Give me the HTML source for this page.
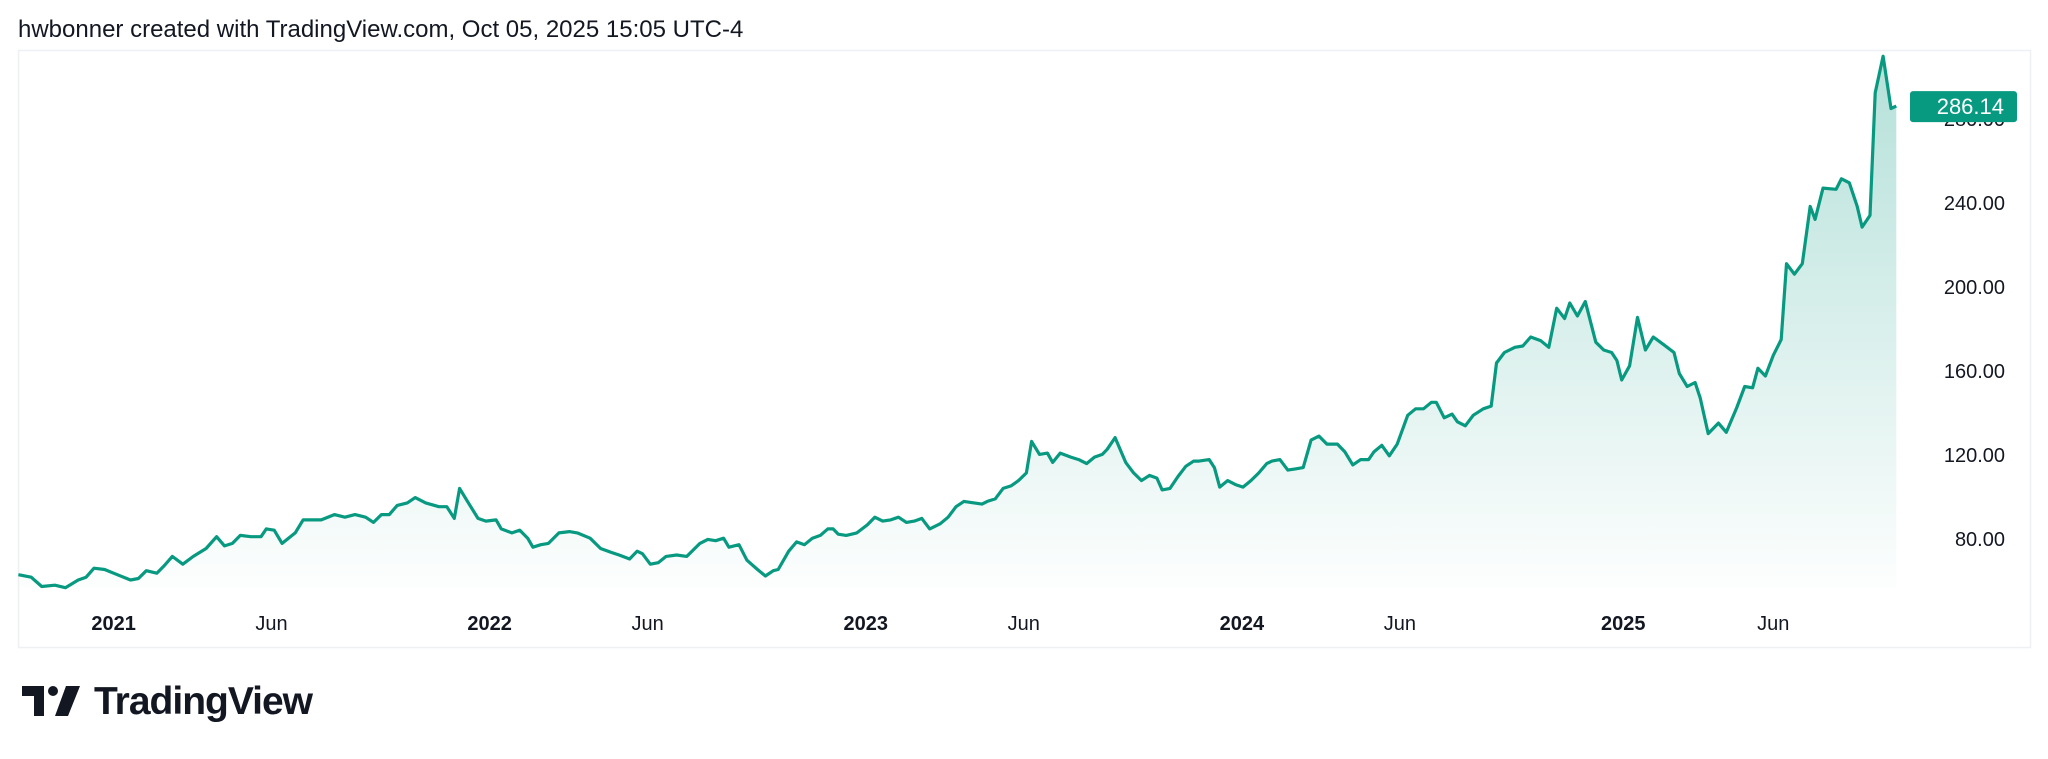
<!DOCTYPE html>
<html><head><meta charset="utf-8">
<style>
html,body{margin:0;padding:0;background:#fff;}
body{width:2048px;height:759px;position:relative;overflow:hidden;font-family:"Liberation Sans",sans-serif;}
#title{position:absolute;left:18px;top:16px;font-size:24px;color:#131722;}
#chart{position:absolute;left:0;top:0;}
#brand{position:absolute;left:22px;top:680px;height:44px;display:flex;align-items:center;}
#brand span{font-size:39px;font-weight:bold;color:#131722;letter-spacing:-1px;margin-left:12px;}
</style></head>
<body>
<div id="title">hwbonner created with TradingView.com, Oct 05, 2025 15:05 UTC-4</div>
<svg id="chart" width="2048" height="759"></svg>
<div id="brand">
<svg width="60" height="40" viewBox="0 0 60 40">
<path d="M0 4h22v30h-10V14H0z" fill="#131722"/><circle cx="31" cy="9" r="5" fill="#131722"/><path d="M44 4h14L46 34H33z" fill="#131722"/></svg>
<span>TradingView</span></div>
<script>
const dates=[2020.796,2020.830,2020.858,2020.893,2020.921,2020.955,2020.976,2020.997,2021.025,2021.059,2021.094,2021.115,2021.136,2021.164,2021.184,2021.205,2021.233,2021.261,2021.295,2021.323,2021.344,2021.365,2021.386,2021.414,2021.441,2021.455,2021.476,2021.497,2021.532,2021.553,2021.580,2021.601,2021.636,2021.664,2021.691,2021.719,2021.740,2021.761,2021.782,2021.803,2021.830,2021.851,2021.879,2021.914,2021.935,2021.955,2021.969,2021.990,2022.018,2022.039,2022.066,2022.080,2022.108,2022.129,2022.150,2022.164,2022.185,2022.205,2022.233,2022.261,2022.282,2022.316,2022.344,2022.372,2022.393,2022.421,2022.441,2022.455,2022.476,2022.497,2022.518,2022.546,2022.573,2022.608,2022.629,2022.650,2022.671,2022.685,2022.712,2022.733,2022.761,2022.782,2022.803,2022.816,2022.844,2022.865,2022.886,2022.907,2022.928,2022.948,2022.962,2022.976,2022.997,2023.025,2023.053,2023.073,2023.094,2023.115,2023.136,2023.157,2023.178,2023.198,2023.219,2023.247,2023.268,2023.289,2023.310,2023.337,2023.358,2023.372,2023.393,2023.414,2023.435,2023.455,2023.476,2023.490,2023.511,2023.532,2023.546,2023.566,2023.594,2023.615,2023.636,2023.657,2023.678,2023.691,2023.712,2023.740,2023.761,2023.782,2023.803,2023.823,2023.837,2023.858,2023.879,2023.900,2023.921,2023.935,2023.962,2023.976,2023.990,2024.011,2024.032,2024.052,2024.073,2024.094,2024.115,2024.129,2024.150,2024.171,2024.191,2024.212,2024.233,2024.254,2024.275,2024.303,2024.323,2024.344,2024.365,2024.386,2024.400,2024.421,2024.441,2024.462,2024.490,2024.511,2024.532,2024.553,2024.566,2024.587,2024.608,2024.622,2024.643,2024.664,2024.691,2024.712,2024.726,2024.747,2024.775,2024.796,2024.817,2024.844,2024.865,2024.886,2024.907,2024.921,2024.941,2024.962,2024.990,2025.011,2025.032,2025.046,2025.059,2025.080,2025.101,2025.122,2025.143,2025.171,2025.198,2025.212,2025.233,2025.254,2025.268,2025.289,2025.316,2025.337,2025.365,2025.386,2025.407,2025.421,2025.441,2025.462,2025.483,2025.497,2025.518,2025.539,2025.560,2025.573,2025.594,2025.629,2025.643,2025.664,2025.685,2025.698,2025.719,2025.733,2025.754,2025.775,2025.789];
const prices=[63.0,61.8,57.4,58.0,56.8,60.5,61.8,66.1,65.5,63.0,60.5,61.2,64.9,63.7,67.4,71.7,68.0,71.7,75.5,81.1,76.7,77.9,81.7,81.1,81.1,84.8,84.2,77.9,82.9,89.1,89.1,89.1,91.6,90.4,91.6,90.4,87.9,91.6,91.6,96.0,97.2,99.7,97.2,95.4,95.4,89.8,104.1,97.9,89.8,88.5,89.1,84.8,82.9,84.2,80.4,76.1,77.3,77.9,82.9,83.5,82.9,80.4,75.5,73.6,72.4,70.5,74.2,73.0,68.0,68.7,71.7,72.4,71.7,77.9,79.8,79.2,80.4,76.1,77.3,69.9,65.5,62.4,64.9,65.5,74.2,78.6,77.3,80.4,81.7,84.8,84.8,82.3,81.7,82.9,86.7,90.4,88.5,89.1,90.4,87.9,88.5,89.8,84.8,87.3,90.4,95.4,97.9,97.2,96.6,97.9,99.1,104.1,105.3,107.8,111.5,126.5,120.3,120.9,116.5,120.9,119.0,117.8,115.9,119.0,120.3,122.7,128.3,116.5,111.5,107.8,110.3,109.0,103.4,104.1,109.7,114.6,117.1,117.1,117.8,114.0,104.7,107.8,105.9,104.7,107.8,111.5,115.9,117.1,117.8,112.8,113.4,114.0,127.1,129.0,125.2,125.2,121.5,115.3,117.8,117.8,121.5,124.6,119.6,125.2,138.9,142.0,142.0,145.1,145.1,137.7,139.5,135.8,133.9,138.9,142.0,143.3,163.8,168.8,171.3,171.9,176.2,174.4,171.3,189.9,185.0,192.4,186.2,193.1,173.7,170.0,168.8,165.0,155.7,162.5,185.5,170.0,176.2,172.5,168.8,158.8,152.6,154.5,147.0,130.2,135.2,130.8,142.6,152.6,152.0,161.3,157.6,167.5,175.0,211.1,206.1,211.1,238.4,232.2,247.1,246.5,251.5,249.6,238.4,228.5,234.1,292.5,309.9,285.0,286.14];
const yTicks=[80,120,160,200,240,280];
const xTickPos=[2021.049,2021.469,2022.049,2022.469,2023.049,2023.469,2024.049,2024.469,2025.063,2025.462];
const xTickLabels=["2021","Jun","2022","Jun","2023","Jun","2024","Jun","2025","Jun"];
const xTickBold=[true,false,true,false,true,false,true,false,true,false];
const lastPrice=286.14;

const NS="http://www.w3.org/2000/svg";
const svgEl=document.getElementById('chart');
const xScale=t=>(t-2020.747)*376.1;
const yScale=v=>539-(v-80)*2.1;
const fTop=50,fBottom=647,fLeft=18,fRight=2030;
function mk(tag,attrs){const e=document.createElementNS(NS,tag);for(const k in attrs)e.setAttribute(k,attrs[k]);svgEl.appendChild(e);return e;}

const defs=document.createElementNS(NS,'defs');
defs.innerHTML='<linearGradient id="g" x1="0" y1="0" x2="0" y2="1"><stop offset="0" stop-color="#089981" stop-opacity="0.3"/><stop offset="1" stop-color="#089981" stop-opacity="0.01"/></linearGradient><clipPath id="cp"><rect x="18" y="50" width="1880" height="597"/></clipPath>';
svgEl.appendChild(defs);

const frame=mk('rect',{x:fLeft+0.5,y:fTop+0.5,width:fRight-fLeft,height:fBottom-fTop,fill:'none',stroke:'#eef0f3','stroke-width':1.5});



let d='';
dates.forEach((t,i)=>{d+=(i?'L':'M')+xScale(t).toFixed(1)+' '+yScale(prices[i]).toFixed(1);});
const area=mk('path',{d:d+'L'+xScale(dates[dates.length-1]).toFixed(1)+' '+(fBottom-60)+'L'+xScale(dates[0]).toFixed(1)+' '+(fBottom-60)+'Z',fill:'url(#g)','clip-path':'url(#cp)'});


const line=mk('path',{d:d,fill:'none',stroke:'#089981','stroke-width':3.2,'stroke-linejoin':'round','clip-path':'url(#cp)'});



yTicks.forEach(v=>{
  const tx=mk('text',{x:2005,y:yScale(v)+7,'text-anchor':'end','font-size':20,fill:'#131722','font-family':'Liberation Sans, sans-serif'});
  tx.textContent=v.toFixed(2);
  
  
});
xTickPos.forEach((t,i)=>{
  const tx=mk('text',{x:xScale(t),y:630,'text-anchor':'middle','font-size':20,fill:'#131722','font-weight':xTickBold[i]?'bold':'normal','font-family':'Liberation Sans, sans-serif'});
  tx.textContent=xTickLabels[i];
  
  
});
const ly=yScale(lastPrice);
const box=mk('rect',{x:1910,y:ly-15,width:107,height:31,rx:3,fill:'#089981'});


const bt=mk('text',{x:2004,y:ly+8,'text-anchor':'end','font-size':22,fill:'#fff','font-family':'Liberation Sans, sans-serif'});
bt.textContent=lastPrice.toFixed(2);


</script>
</body></html>
